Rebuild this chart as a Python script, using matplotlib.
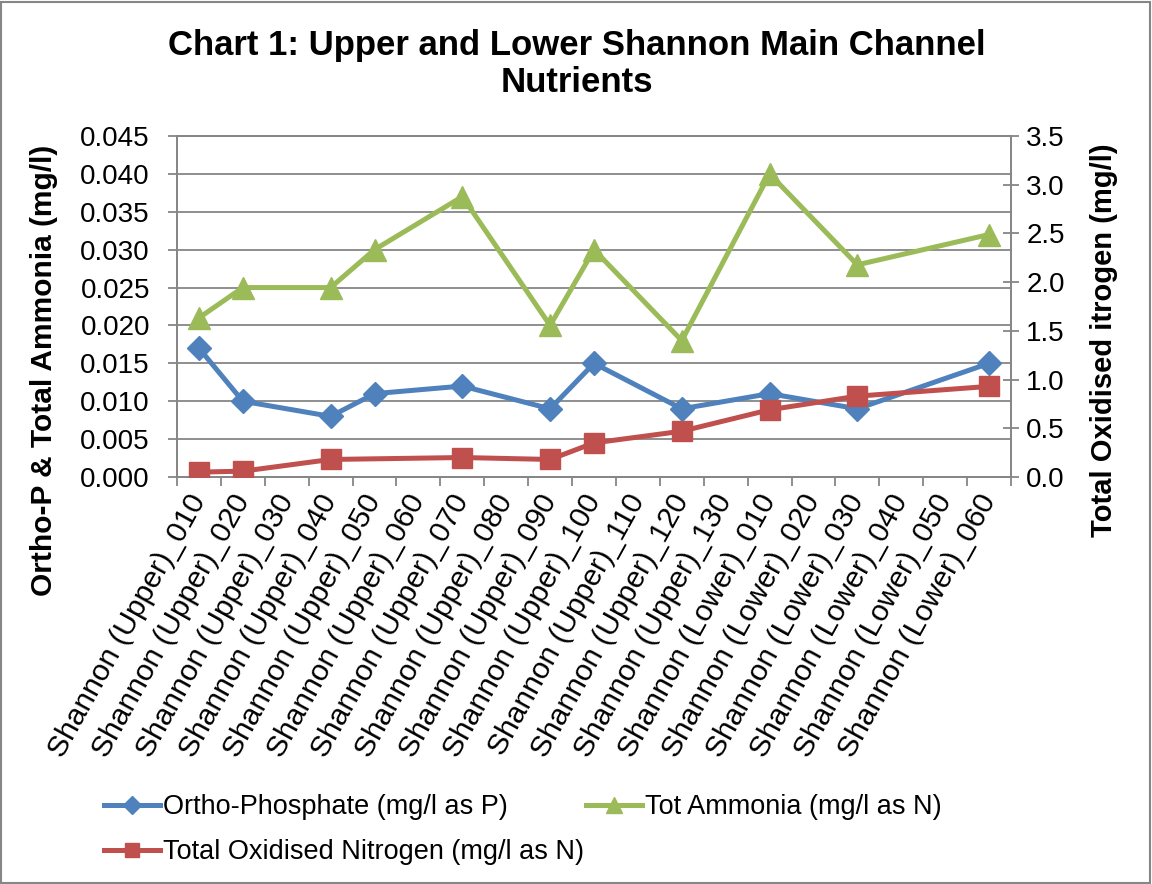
import matplotlib.pyplot as plt
import numpy as np
from matplotlib.patches import Rectangle
from matplotlib.ticker import MultipleLocator, FormatStrFormatter

plt.rcParams['font.family'] = ['Liberation Sans', 'DejaVu Sans']

nan = np.nan
sites = ['Shannon (Upper)_010', 'Shannon (Upper)_020', 'Shannon (Upper)_030',
         'Shannon (Upper)_040', 'Shannon (Upper)_050', 'Shannon (Upper)_060',
         'Shannon (Upper)_070', 'Shannon (Upper)_080', 'Shannon (Upper)_090',
         'Shannon (Upper)_100', 'Shannon (Upper)_110', 'Shannon (Upper)_120',
         'Shannon (Upper)_130', 'Shannon (Lower)_010', 'Shannon (Lower)_020',
         'Shannon (Lower)_030', 'Shannon (Lower)_040', 'Shannon (Lower)_050',
         'Shannon (Lower)_060']
ortho_p = [0.017, 0.010, nan, 0.008, 0.011, nan, 0.012, nan, 0.009, 0.015,
           nan, 0.009, nan, 0.011, nan, 0.009, nan, nan, 0.015]
ammonia = [0.021, 0.025, nan, 0.025, 0.030, nan, 0.037, nan, 0.020, 0.030,
           nan, 0.018, nan, 0.040, nan, 0.028, nan, nan, 0.032]
ton = [0.05, 0.06, nan, 0.18, nan, nan, 0.20, nan, 0.18, 0.35,
       nan, 0.47, nan, 0.69, nan, 0.83, nan, nan, 0.93]

grey = '#868686'
W, H = 1152, 884

fig = plt.figure(figsize=(W / 100, H / 100), dpi=100)
ax = fig.add_axes([177 / W, 1 - 477 / H, (1011 - 177) / W, (477 - 136) / H])
ax2 = ax.twinx()

x = np.arange(len(sites))


def draw(axis, values, color, marker, ms, label):
    v = np.array(values, dtype=float)
    ok = ~np.isnan(v)
    return axis.plot(x[ok], v[ok], color=color, lw=3.6, marker=marker,
                     markersize=ms, label=label, zorder=3)[0]


l1 = draw(ax, ortho_p, '#4F81BD', 'D', 12.5, 'Ortho-Phosphate (mg/l as P)')
l2 = draw(ax, ammonia, '#9BBB59', '^', 15.5, 'Tot Ammonia (mg/l as N)')
l3 = draw(ax2, ton, '#C0504D', 's', 15, 'Total Oxidised Nitrogen (mg/l as N)')

ax.set_xlim(-0.5, len(sites) - 0.5)
ax.set_ylim(0, 0.045)
ax2.set_ylim(0, 3.5)
ax.yaxis.set_major_locator(MultipleLocator(0.005))
ax.yaxis.set_major_formatter(FormatStrFormatter('%.3f'))
ax2.yaxis.set_major_locator(MultipleLocator(0.5))
ax2.yaxis.set_major_formatter(FormatStrFormatter('%.1f'))

ax.yaxis.grid(True, color=grey, lw=1.3)
ax.set_axisbelow(True)
for a in (ax, ax2):
    for s in a.spines.values():
        s.set_color(grey)
        s.set_linewidth(1.3)

ax.set_xticks(x)
ax.set_xticklabels(sites, rotation=61, ha='right', va='center',
                   rotation_mode='anchor', fontsize=21.5)
ax.set_xticks(np.arange(-0.5, len(sites), 1), minor=True)
ax.tick_params(axis='x', which='major', length=0, pad=14)
ax.tick_params(axis='x', which='minor', length=6.5, color=grey, width=1.3)
ax.tick_params(axis='y', length=6.5, color=grey, width=1.3, labelsize=20, pad=13)
ax2.tick_params(axis='y', direction='inout', length=12, color=grey, width=1.3,
                labelsize=20, pad=5)

fig.text(577 / W, 1 - 64 / H,
         'Chart 1: Upper and Lower Shannon Main Channel\nNutrients',
         ha='center', va='center', fontsize=25, fontweight='bold',
         linespacing=1.15)
fig.text(44 / W, 1 - 370 / H, 'Ortho-P & Total Ammonia (mg/l)', rotation=90,
         ha='center', va='center', fontsize=21.5, fontweight='bold')
fig.text(1104 / W, 1 - 340 / H, 'Total Oxidised itrogen (mg/l)', rotation=90,
         ha='center', va='center', fontsize=21, fontweight='bold')

fig.legend([l1, l3, l2], [l1.get_label(), l3.get_label(), l2.get_label()],
           loc='upper left', bbox_to_anchor=(80 / W, 1 - 770 / H), ncol=2,
           frameon=False, fontsize=19.5, handlelength=2.05, handletextpad=0.1,
           columnspacing=0.1, labelspacing=0.7, markerscale=0.7)

fig.patches.append(Rectangle((1 / W, 1 / H), 1 - 3 / W, 1 - 3 / H,
                             transform=fig.transFigure, fill=False,
                             ec=grey, lw=1.5))

fig.savefig('out.png', dpi=100)
